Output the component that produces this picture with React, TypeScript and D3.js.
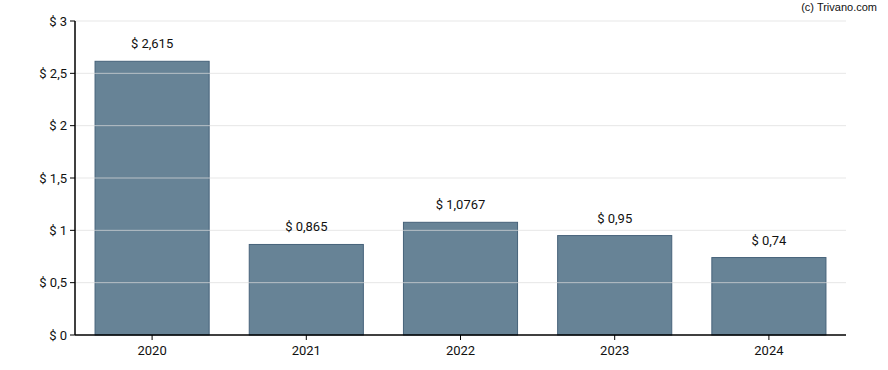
import React from 'react';
import * as d3 from 'd3';

const years = ['2020', '2021', '2022', '2023', '2024'];
const dividends = [2.615, 0.865, 1.0767, 0.95, 0.74];
const labels = ['$ 2,615', '$ 0,865', '$ 1,0767', '$ 0,95', '$ 0,74'];
const yTicks = [0, 0.5, 1, 1.5, 2, 2.5, 3];

const width = 888;
const height = 370;
const margin = { top: 21, right: 42, bottom: 35, left: 75 };

const App = () => {
    const x = d3.scaleBand()
        .domain(years)
        .range([margin.left, width - margin.right])
        .paddingInner(0.26)
        .paddingOuter(0.13);

    const y = d3.scaleLinear()
        .domain([0, 3])
        .range([height - margin.bottom, margin.top]);

    const fmt = (d: number) => '$ ' + String(d).replace('.', ',');
    const font = 'Roboto, "Noto Sans", sans-serif';

    return (
        <svg width={width} height={height} style={{ position: 'absolute', left: 0, top: 0 }} fontFamily={font}>
            <rect width={width} height={height} fill="#fff" />
            {years.map((yr, i) => (
                <rect key={yr}
                    x={x(yr)}
                    y={y(dividends[i])}
                    width={x.bandwidth()}
                    height={y(0) - y(dividends[i])}
                    fill="#678396"
                    stroke="#46627a"
                    strokeWidth={1} />
            ))}
            {yTicks.map(t => (
                <g key={t}>
                    {t > 0 && (
                        <line x1={margin.left} x2={width - margin.right} y1={y(t)} y2={y(t)}
                            stroke="#ddd" strokeOpacity={0.7} />
                    )}
                    <line x1={margin.left - 5} x2={margin.left} y1={y(t)} y2={y(t)} stroke="#000" />
                    <text x={margin.left - 8} y={y(t)} dy="0.35em" textAnchor="end" fontSize={13} fill="#111">
                        {fmt(t)}
                    </text>
                </g>
            ))}
            <line x1={margin.left} x2={margin.left} y1={margin.top} y2={y(0)} stroke="#000" strokeWidth={1.5} />
            <line x1={margin.left} x2={width - margin.right} y1={y(0)} y2={y(0)} stroke="#000" strokeWidth={1.5} />
            {years.map((yr, i) => {
                const cx = (x(yr) as number) + x.bandwidth() / 2;
                return (
                    <g key={'l' + yr}>
                        <line x1={cx} x2={cx} y1={y(0)} y2={y(0) + 5} stroke="#000" />
                        <text x={cx} y={y(0) + 20} textAnchor="middle" fontSize={13} fill="#111">{yr}</text>
                        <text x={cx} y={y(dividends[i]) - 13} textAnchor="middle" fontSize={13} fill="#111">{labels[i]}</text>
                    </g>
                );
            })}
            <text x={877} y={11} textAnchor="end" fontSize={11} fill="#111" fontFamily='"Liberation Sans", Arial, sans-serif'>(c) Trivano.com</text>
        </svg>
    );
};

export default App;
